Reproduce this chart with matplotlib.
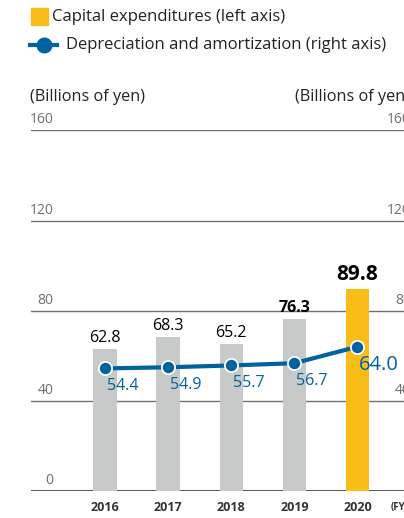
import matplotlib
matplotlib.use("Agg")
import matplotlib.pyplot as plt
from matplotlib.lines import Line2D
from matplotlib.patches import Rectangle
from matplotlib import rcParams

rcParams['font.family'] = ['Open Sans', 'DejaVu Sans']

years = ['2016', '2017', '2018', '2019', '2020']
capex = [62.8, 68.3, 65.2, 76.3, 89.8]
depreciation = [54.4, 54.9, 55.7, 56.7, 64.0]
yticks = [0, 40, 80, 120, 160]
right_ticks = ['0', '40', '80', '120', '160']

GRAY = '#c8c9c9'
GOLD = '#f8bd17'
BLUE = '#00629e'
W, H = 404, 518

fig = plt.figure(figsize=(W / 100, H / 100), dpi=100)

def fx(px):
  return px / W

def fy(py):
  return 1 - py / H

# axes spans beyond right edge (chart is cropped in the original)
ax_left, ax_right = 31, 430
ax_top, ax_bot = 130.4, 491
ax = fig.add_axes([fx(ax_left), fy(ax_bot), (ax_right - ax_left) / W, (ax_bot - ax_top) / H])
x0_px, step_px = 105, 63.1
ax.set_xlim((ax_left - x0_px) / step_px, (ax_right - x0_px) / step_px)
ax.set_ylim(0, 160)
ax.axis('off')

for t in yticks[1:]:
  ax.axhline(t, color='#707070', lw=1.0, zorder=1)
ax.axhline(0, color='#555555', lw=1.4, zorder=1)

xs = list(range(len(years)))
colors = [GRAY] * 4 + [GOLD]
ax.bar(xs, capex, width=0.37, color=colors, zorder=2)

ax.plot(xs, depreciation, color=BLUE, lw=3, marker='o', ms=9.5,
        markerfacecolor=BLUE, markeredgecolor='white', markeredgewidth=1.3, zorder=4)

# tick labels sit above the gridlines
for t, lab in zip(yticks, right_ticks):
  ax.text(-0.82, t + 1.3, str(t), ha='right', va='bottom', fontsize=10, color='#707070')
  ax.text(4.85, t + 1.3, lab, ha='right', va='bottom', fontsize=10, color='#707070', clip_on=False)

for i, y in enumerate(years):
  ax.text(i, -7.5, y, ha='center', va='center', fontsize=9, fontweight='bold', color='#333333', clip_on=False)
ax.text(4.52, -7.5, '(FY)', ha='left', va='center', fontsize=7, fontweight='bold', color='#333333', clip_on=False)

# bar values
for i, v in enumerate(capex):
  if i == 4:
    ax.text(i, v + 1.5, f'{v:.1f}', ha='center', va='bottom', fontsize=15, fontweight='bold', color='black')
  elif i == 3:
    ax.text(i, v + 1.5, f'{v:.1f}', ha='center', va='bottom', fontsize=11.5, fontweight='bold', color='black')
  else:
    ax.text(i, v + 1.5, f'{v:.1f}', ha='center', va='bottom', fontsize=11.5, color='black')

# line values
for i, v in enumerate(depreciation):
  if i == 4:
    ax.text(i + 0.02, v - 8, f'{v:.1f}', ha='left', va='center', fontsize=14.5, color=BLUE, zorder=5)
  else:
    ax.text(i + 0.03, v - 7.8, f'{v:.1f}', ha='left', va='center', fontsize=11.5, color=BLUE, zorder=5)

# legend
fig.patches.append(Rectangle((fx(31), fy(25)), fx(17), 17 / H, color=GOLD, transform=fig.transFigure))
fig.text(fx(52), fy(17), 'Capital expenditures (left axis)', ha='left', va='center', fontsize=12, color='#222222')
fig.lines.append(Line2D([fx(30), fx(36)], [fy(45), fy(45)], color=BLUE, lw=3, transform=fig.transFigure))
fig.lines.append(Line2D([fx(51), fx(57)], [fy(45), fy(45)], color=BLUE, lw=3, transform=fig.transFigure))
fig.lines.append(Line2D([fx(43.5)], [fy(45)], marker='o', ms=10.5, color=BLUE, transform=fig.transFigure))
fig.text(fx(66), fy(45), 'Depreciation and amortization (right axis)', ha='left', va='center', fontsize=12, color='#222222')

fig.text(fx(30), fy(97), '(Billions of yen)', ha='left', va='center', fontsize=11.7, color='#222222')
fig.text(fx(295), fy(97), '(Billions of yen)', ha='left', va='center', fontsize=11.7, color='#222222')

fig.savefig('out.png', dpi=100)
